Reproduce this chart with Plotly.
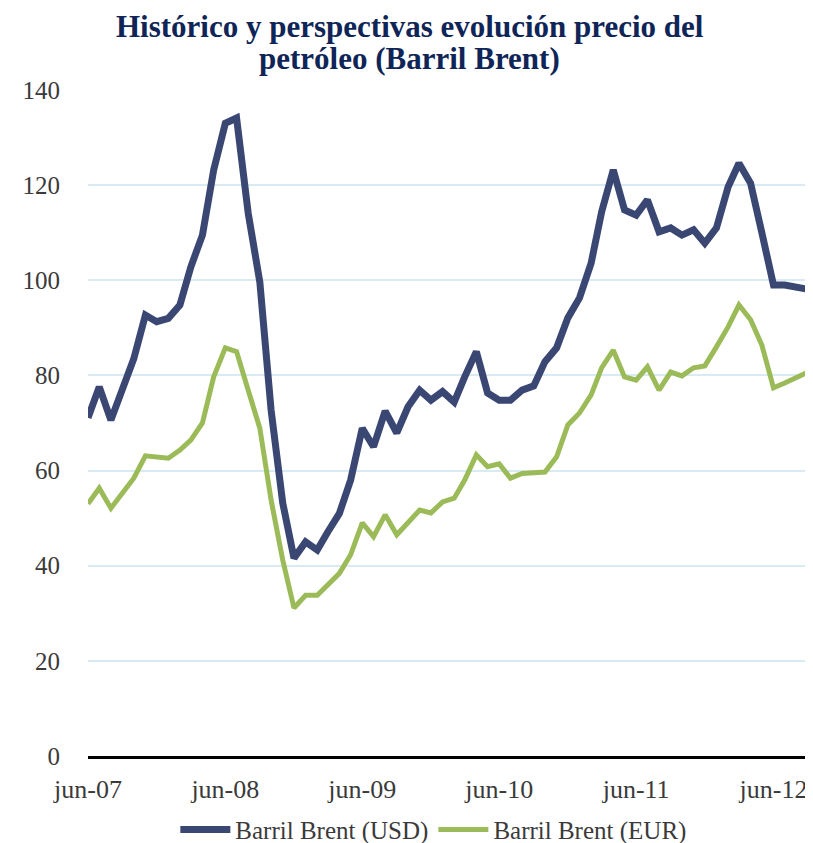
import plotly.graph_objects as go
import pandas as pd

months = pd.date_range("2007-06-01", periods=64, freq="MS")

usd = [71.1, 77.6, 70.6, 77.2, 83.5, 92.7, 91.3, 92.0, 94.8, 102.8,
       109.5, 123.2, 133.0, 134.1, 114.1, 99.6, 72.7, 53.2, 41.6, 45.0,
       43.3, 47.1, 51.0, 58.0, 68.9, 65.0, 72.5, 67.9, 73.4, 76.9,
       74.8, 76.6, 74.4, 79.7, 85.0, 76.3, 74.8, 74.8, 76.9, 77.8,
       82.9, 85.8, 92.1, 96.3, 103.6, 114.4, 123.2, 114.8, 113.7, 116.9,
       110.2, 111.0, 109.5, 110.6, 107.8, 111.0, 119.6, 124.6, 120.4, 110.0,
       99.0, 99.0, 98.4, 98.1]

eur = [53.0, 56.3, 52.1, 55.5, 58.4, 63.1, 62.9, 62.6, 64.3, 66.4,
       70.0, 79.7, 85.8, 85.0, 76.9, 68.9, 53.8, 41.2, 31.1, 33.8,
       33.8, 35.9, 38.4, 42.3, 49.0, 46.1, 50.7, 46.5, 49.2, 51.7,
       51.1, 53.4, 54.2, 58.0, 63.3, 60.8, 61.4, 58.4, 59.4, 59.6,
       59.7, 62.9, 69.6, 72.1, 75.9, 81.6, 85.3, 79.7, 79.0, 81.8,
       76.9, 80.7, 79.9, 81.6, 82.0, 86.0, 90.2, 94.8, 91.7, 86.4,
       77.4, 78.4, 79.5, 80.7]

tick_dates = ["2007-06-01", "2008-06-01", "2009-06-01", "2010-06-01", "2011-06-01", "2012-06-01"]
tick_labels = ["jun-07", "jun-08", "jun-09", "jun-10", "jun-11", "jun-12"]
y_ticks = [0, 20, 40, 60, 80, 100, 120, 140]

title_lines = ["Histórico y perspectivas evolución precio del", "petróleo (Barril Brent)"]

FONT = "Liberation Serif"
TXT = "#3a3a3a"

fig = go.Figure()
fig.add_trace(go.Scatter(x=months, y=usd, mode="lines", name="Barril Brent (USD)",
                         line=dict(color="#3b4773", width=7)))
fig.add_trace(go.Scatter(x=months, y=eur, mode="lines", name="Barril Brent (EUR)",
                         line=dict(color="#9bbb59", width=5)))

fig.update_layout(
    width=805, height=835,
    margin=dict(l=80, r=5, t=82, b=87, autoexpand=False),
    paper_bgcolor="white", plot_bgcolor="white",
    font=dict(family=FONT, color=TXT),
    showlegend=True,
    legend=dict(orientation="h", x=0.529, xanchor="center",
                xref="container", yref="container", y=0.016, yanchor="middle",
                font=dict(family=FONT, size=25, color=TXT),
                itemwidth=50, tracegroupgap=0),
)
for txt, yy in zip(title_lines, [1.0946, 1.0480]):
    fig.add_annotation(text="<b>" + txt + "</b>", xref="paper", yref="paper",
                       x=0.447, y=yy, xanchor="center", yanchor="middle",
                       showarrow=False,
                       font=dict(family=FONT, size=31, color="#0f2557"))

fig.update_xaxes(
    range=[months[0], months[-1]],
    tickmode="array", tickvals=tick_dates, ticktext=tick_labels,
    tickfont=dict(family=FONT, size=26, color=TXT),
    showgrid=False, showline=True, linecolor="black", linewidth=3,
    ticks="outside", ticklen=8, tickcolor="rgba(0,0,0,0)",
    zeroline=False,
)
fig.update_yaxes(
    range=[0, 140], tickmode="array", tickvals=y_ticks,
    tickfont=dict(family=FONT, size=25, color=TXT),
    showgrid=True, gridcolor="#d8ebf4", gridwidth=2,
    zeroline=False, showline=False,
    ticks="outside", ticklen=22, tickcolor="rgba(0,0,0,0)",
)

fig.write_html("out.html")
